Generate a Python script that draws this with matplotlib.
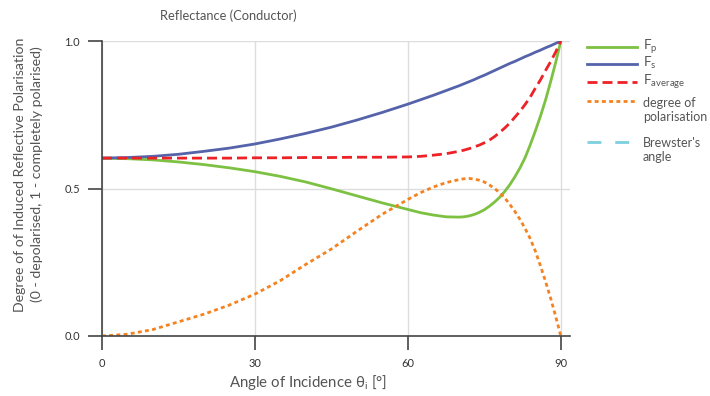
import matplotlib
matplotlib.use("Agg")
import matplotlib.pyplot as plt
from matplotlib.lines import Line2D

plt.rcParams['font.family'] = ['Lato', 'DejaVu Sans']
plt.rcParams['mathtext.fontset'] = 'custom'
plt.rcParams['mathtext.rm'] = 'Lato'

# ---- data ----
theta = [0, 5, 10, 15, 20, 25, 30, 35, 40, 45, 50, 55,
         60, 62.5, 65, 67.5, 70, 71, 72, 73, 74, 75, 76, 77, 78, 79,
         80, 81, 82, 83, 84, 85, 86, 87, 88, 89, 90]
F_s = [0.603, 0.605, 0.609, 0.616, 0.626, 0.637, 0.651, 0.668, 0.687, 0.708,
       0.732, 0.758,
       0.786, 0.801, 0.816, 0.832, 0.848, 0.855, 0.862, 0.869, 0.877, 0.884,
       0.892, 0.900, 0.908, 0.916, 0.924, 0.931, 0.939, 0.947, 0.954, 0.962,
       0.969, 0.977, 0.984, 0.992, 1.0]
F_p = [0.603, 0.601, 0.597, 0.590, 0.581, 0.570, 0.557, 0.541, 0.522, 0.499,
       0.475, 0.451,
       0.429, 0.418, 0.410, 0.404, 0.403, 0.404, 0.407, 0.412, 0.419, 0.428,
       0.440, 0.454, 0.470, 0.490, 0.513, 0.540, 0.570, 0.605, 0.648, 0.695,
       0.745, 0.800, 0.862, 0.928, 1.0]
F_avg = [0.603, 0.603, 0.603, 0.603, 0.603, 0.603, 0.604, 0.604, 0.605, 0.605,
         0.606, 0.606,
         0.607, 0.609, 0.613, 0.618, 0.626, 0.630, 0.635, 0.641, 0.647, 0.655,
         0.664, 0.676, 0.690, 0.705, 0.722, 0.742, 0.762, 0.785, 0.810, 0.840,
         0.868, 0.900, 0.930, 0.963, 1.0]
deg_pol = [0.0, 0.006, 0.022, 0.048, 0.074, 0.105, 0.142, 0.188, 0.243, 0.295,
           0.355, 0.413,
           0.463, 0.486, 0.505, 0.520, 0.530, 0.533, 0.534, 0.532, 0.528, 0.522,
           0.512, 0.500, 0.486, 0.468, 0.446, 0.422, 0.395, 0.364, 0.330, 0.288,
           0.238, 0.185, 0.128, 0.066, 0.0]

xticks = [0, 30, 60, 90]
yticks = [0.0, 0.5, 1.0]
ytick_labels = ["0.0", "0.5", "1.0"]

c_p = "#7dc142"
c_s = "#5563aa"
c_avg = "#ec2227"
c_pol = "#f5821f"
c_brew = "#7cd0e0"
txt = "#555555"

W, H = 710, 396
fig = plt.figure(figsize=(W / 100, H / 100), dpi=100)
ax = fig.add_axes([102 / W, 1 - 336 / H, (570 - 102) / W, (336 - 41) / H])

ax.plot(theta, F_p, color=c_p, lw=2.0, solid_capstyle='butt')
ax.plot(theta, F_s, color=c_s, lw=2.0, solid_capstyle='butt')
ax.plot(theta, F_avg, color=c_avg, lw=2.0, dashes=(3.6, 1.8))
ax.plot(theta, deg_pol, color=c_pol, lw=2.0, dashes=(1.4, 1.2))

ax.set_xlim(0, 91.8)
ax.set_ylim(0, 1)
ax.set_xticks(xticks)
ax.set_yticks(yticks)
ax.set_yticklabels(ytick_labels)
ax.grid(True, color="#dddddd", lw=1.0)
ax.set_axisbelow(True)
for s in ['top', 'right']:
    ax.spines[s].set_visible(False)
for s in ['left', 'bottom']:
    ax.spines[s].set_color("#444444")
    ax.spines[s].set_linewidth(1.2)
ax.tick_params(axis='both', direction='out', length=10, width=1.2,
               color="#444444", labelsize=8, labelcolor="#333333", pad=6)

fig.text(228 / W, 1 - 16 / H, "Reflectance (Conductor)", ha='center', va='center',
         fontsize=9.3, color=txt)
fig.text(308 / W, 1 - 382 / H, r"Angle of Incidence θ$_\mathrm{i}$ [°]",
         ha='center', va='center', fontsize=10.8, color=txt)
fig.text(20 / W, 1 - 175 / H, "Degree of of Induced Reflective Polarisation",
         ha='center', va='center', rotation=90, fontsize=10.2, color=txt)
fig.text(37 / W, 1 - 174 / H, "(0 - depolarised, 1 - completely polarised)",
         ha='center', va='center', rotation=90, fontsize=10.2, color=txt)

# ---- legend ----
def leg_line(y, color, dashes=None):
    ln = Line2D([587 / W, 637 / W], [1 - y / H, 1 - y / H], color=color, lw=2.0,
                transform=fig.transFigure)
    if dashes:
        ln.set_dashes(dashes)
    fig.add_artist(ln)

leg_line(47, c_p)
leg_line(64, c_s)
leg_line(82, c_avg, (3.6, 1.8))
leg_line(101, c_pol, (1.4, 1.2))
leg_line(142, c_brew, (5, 5))

lx = 643 / W
fs_leg = 9
fig.text(lx, 1 - 46 / H, r"F$_\mathrm{p}$", ha='left', va='center', fontsize=9.8, color=txt)
fig.text(lx, 1 - 63 / H, r"F$_\mathrm{s}$", ha='left', va='center', fontsize=9.8, color=txt)
fig.text(lx, 1 - 81 / H, r"F$_\mathrm{average}$", ha='left', va='center', fontsize=9.8, color=txt)
fig.text(lx, 1 - 110 / H, "degree of\npolarisation", ha='left', va='center',
         fontsize=fs_leg, color=txt, linespacing=1.25)
fig.text(lx, 1 - 150 / H, "Brewster's\nangle", ha='left', va='center',
         fontsize=fs_leg, color=txt, linespacing=1.25)

fig.savefig("out.png", dpi=100)
